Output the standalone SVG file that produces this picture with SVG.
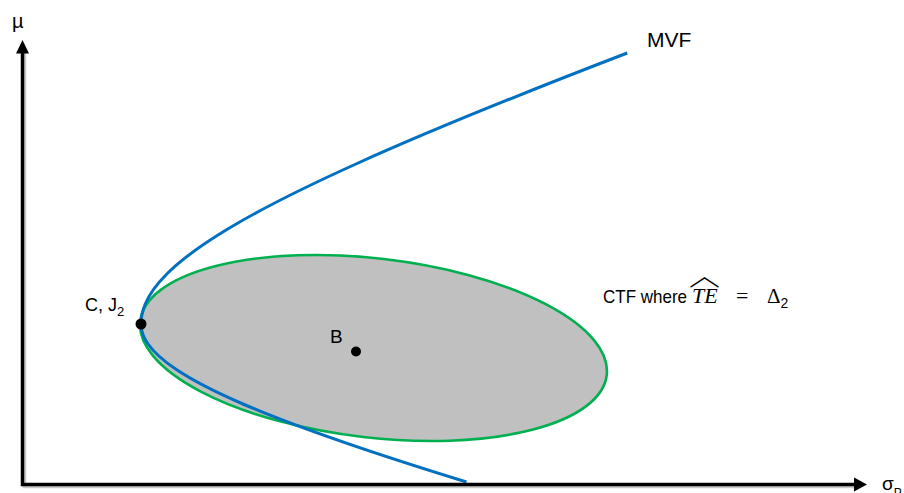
<svg xmlns="http://www.w3.org/2000/svg" width="904" height="493" viewBox="0 0 904 493">
  <style>
    .axis { stroke: #000; stroke-width: 3.5; fill: none; }
    .axis-shadow { stroke: #a6a6a6; stroke-width: 3.5; fill: none; opacity: 0.6; }
    .head { fill: #000; }
    .lbl { font-family: "Liberation Sans", Arial, sans-serif; fill: #000; }
    .math { font-family: "Liberation Serif", "Times New Roman", serif; fill: #000; }
    .dot { fill: #000; }
  </style>
  <rect width="904" height="493" fill="#fff"/>

  <!-- ellipse of the constrained tracking frontier -->
  <g id="ctf">
    <ellipse cx="373.5" cy="348" rx="234.8" ry="89.6" transform="rotate(6.6 373.5 348)" fill="#c0c0c0" stroke="#00b050" stroke-width="2.6"/>
  </g>

  <!-- mean-variance frontier: two hyperbolic arms meeting at the vertex (141,324) -->
  <g id="mvf">
    <path fill="none" stroke="#0070c0" stroke-width="3"
      d="M627.25,53 C530.94,90 437.94,127 355.95,164
         C307.94,185.67 263.78,207.33 227.75,229
         C202.8,244 181.83,259 166.81,274
         C156.8,284 149.46,294 145.24,304
         C142.43,310.67 141,317.33 141,324
         C141,330.67 143.38,337.33 148.04,344
         C153.86,352.33 163.24,360.67 175.6,369
         C192.9,380.67 215.99,392.33 243,404
         C303.19,430 381.84,456 466.5,482"/>
  </g>

  <!-- axes -->
  <g id="axes">
    <path class="axis-shadow" d="M24.5,52 V486.5 H857"/>
    <path class="axis" d="M22.5,52 V484.5 H856"/>
    <polygon class="head" points="22.5,40 29,53.5 16,53.5"/>
    <polygon class="head" points="867,484.5 854,477.5 854,491.5"/>
    <text class="lbl" x="12" y="27.5" font-size="20">µ</text>
    <text class="lbl" x="882" y="490" font-size="19">σ<tspan font-size="12" dy="7">P</tspan></text>
  </g>

  <!-- points -->
  <g id="point-c">
    <circle class="dot" cx="141" cy="324" r="5.5"/>
    <text class="lbl" x="85" y="311" font-size="18">C, J<tspan font-size="13" dy="5">2</tspan></text>
  </g>
  <g id="point-b">
    <circle class="dot" cx="356" cy="351.5" r="5"/>
    <text class="lbl" x="330" y="343" font-size="19">B</text>
  </g>

  <!-- labels -->
  <g id="label-mvf">
    <text class="lbl" x="647" y="47" font-size="21">MVF</text>
  </g>
  <g id="label-ctf">
    <text class="lbl" x="603" y="303" font-size="19" textLength="84" lengthAdjust="spacingAndGlyphs">CTF where</text>
    <text class="math" x="692" y="303" font-size="22" font-style="italic">TE</text>
    <text x="689" y="284.5" font-size="31" font-weight="200" font-family="'Noto Sans CJK SC', sans-serif" fill="#000">︿</text>
    <text class="math" x="736" y="303" font-size="22">=</text>
    <text class="math" x="767" y="303" font-size="21">Δ<tspan class="lbl" font-size="14" dy="5">2</tspan></text>
  </g>
</svg>
